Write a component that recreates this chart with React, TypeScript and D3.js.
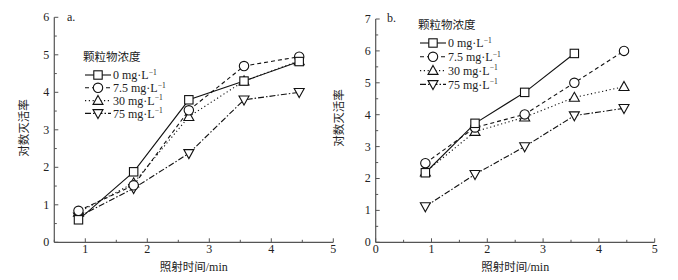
import React from "react";
import * as d3 from "d3";

const times = [0.89, 1.78, 2.67, 3.56, 4.45];
const seriesNames = ["0 mg·L", "7.5 mg·L", "30 mg·L", "75 mg·L"];
const legendTitle = "颗粒物浓度";
const yTitle = "对数灭活率";

// panel a
const a0 = [0.6, 1.88, 3.8, 4.3, 4.82];
const a75p = [0.84, 1.52, 3.52, 4.7, 4.95];
const a30 = [0.8, 1.58, 3.35, 4.3, 4.84];
const a75 = [0.68, 1.44, 2.37, 3.8, 4.0];

// panel b
const b0 = [2.18, 3.73, 4.7, 5.92];
const b75p = [2.48, 3.6, 4.01, 5.0, 6.0];
const b30 = [2.2, 3.47, 3.92, 4.54, 4.88];
const b75 = [1.12, 2.13, 3.0, 3.97, 4.2];

const aYTicks = [0, 1, 2, 3, 4, 5, 6];
const bYTicks = [0, 1, 2, 3, 4, 5, 6, 7];
const aXTicks = [1, 2, 3, 4, 5];
const bXTicks = [0, 1, 2, 3, 4, 5];

const dashes = [null, "4,3", "1.2,2.6", "6,2,1.5,2"];
const markers = ["square", "circle", "up", "down"];

const serif = "Liberation Serif, Times New Roman, serif";
const cjk = "Noto Sans CJK SC, Liberation Serif, serif";

function Marker({ type, x, y }: { type: string; x: number; y: number }) {
  const common = { fill: "white", stroke: "#111", strokeWidth: 1.1 };
  if (type === "square") return <rect x={x - 4.2} y={y - 4.2} width={8.4} height={8.4} {...common} />;
  if (type === "circle") return <circle cx={x} cy={y} r={4.7} {...common} />;
  if (type === "up")
    return <path d={`M${x},${y - 5.2}L${x + 5},${y + 3.8}L${x - 5},${y + 3.8}Z`} {...common} />;
  return <path d={`M${x},${y + 5.2}L${x + 5},${y - 3.8}L${x - 5},${y - 3.8}Z`} {...common} />;
}

function Panel(props: {
  series: number[][];
  xDomain: [number, number];
  yDomain: [number, number];
  xRange: [number, number];
  yRange: [number, number];
  xTicks: number[];
  yTicks: number[];
  label: string;
  labelPos: [number, number];
  legendPos: [number, number];
  legendGap: number;
  yTitlePos: [number, number];
  xTitleY: number;
}) {
  const x = d3.scaleLinear().domain(props.xDomain).range(props.xRange);
  const y = d3.scaleLinear().domain(props.yDomain).range(props.yRange);
  const line = d3
    .line<[number, number]>()
    .x((d) => x(d[0]))
    .y((d) => y(d[1]));
  const xMinor = d3.range(props.xDomain[0], props.xDomain[1] + 0.001, 0.5).filter((v) => !props.xTicks.includes(v));
  const yMinor = d3.range(props.yDomain[0], props.yDomain[1] + 0.001, 0.5).filter((v) => !props.yTicks.includes(v));
  const axisColor = "#555";
  const [lx, ly] = props.legendPos;
  return (
    <g>
      <line x1={props.xRange[0]} x2={props.xRange[0]} y1={props.yRange[0]} y2={props.yRange[1]} stroke={axisColor} strokeWidth={1.2} />
      <line x1={props.xRange[0]} x2={props.xRange[1]} y1={props.yRange[0]} y2={props.yRange[0]} stroke={axisColor} strokeWidth={1.2} />
      {props.yTicks.map((t) => (
        <g key={"yt" + t}>
          <line x1={props.xRange[0]} x2={props.xRange[0] + 4} y1={y(t)} y2={y(t)} stroke={axisColor} />
          <text x={props.xRange[0] - 5} y={y(t)} dy="0.33em" textAnchor="end" fontFamily={serif} fontSize={12} fill="#222">
            {t}
          </text>
        </g>
      ))}
      {yMinor.map((t) => (
        <line key={"ym" + t} x1={props.xRange[0]} x2={props.xRange[0] + 2.5} y1={y(t)} y2={y(t)} stroke={axisColor} />
      ))}
      {props.xTicks.map((t) => (
        <g key={"xt" + t}>
          <line x1={x(t)} x2={x(t)} y1={props.yRange[0]} y2={props.yRange[0] - 4} stroke={axisColor} />
          <text x={x(t)} y={props.yRange[0] + 11} textAnchor="middle" fontFamily={serif} fontSize={12} fill="#222">
            {t}
          </text>
        </g>
      ))}
      {xMinor.map((t) => (
        <line key={"xm" + t} x1={x(t)} x2={x(t)} y1={props.yRange[0]} y2={props.yRange[0] - 2.5} stroke={axisColor} />
      ))}
      {props.series.map((s, i) => {
        const pts = s.map((v, j) => [times[j], v] as [number, number]);
        return (
          <path
            key={"l" + i}
            d={line(pts) || ""}
            fill="none"
            stroke="#111"
            strokeWidth={1.1}
            strokeDasharray={dashes[i] || undefined}
          />
        );
      })}
      {props.series
        .map((s, i) => ({ s, i }))
        .reverse()
        .map(({ s, i }) =>
          s.map((v, j) => <Marker key={`m${i}-${j}`} type={markers[i]} x={x(times[j])} y={y(v)} />)
        )}
      <text x={props.labelPos[0]} y={props.labelPos[1]} fontFamily={serif} fontSize={12} fill="#222">
        {props.label}
      </text>
      <text
        transform={`translate(${props.yTitlePos[0]},${props.yTitlePos[1]}) rotate(-90)`}
        textAnchor="middle"
        fontFamily={cjk}
        fontSize={11.5}
        fill="#222"
      >
        {yTitle}
      </text>
      <text x={(props.xRange[0] + props.xRange[1]) / 2} y={props.xTitleY} textAnchor="middle" fontFamily={cjk} fontSize={11.5} fill="#222">
        <tspan>照射时间</tspan>
        <tspan fontFamily={serif} fontSize={12}>/min</tspan>
      </text>
      <text x={lx - 2} y={ly} fontFamily={cjk} fontSize={11.5} fill="#222">
        {legendTitle}
      </text>
      {seriesNames.map((n, i) => {
        const yy = ly + 14 + i * props.legendGap;
        return (
          <g key={"lg" + i}>
            <line x1={lx} x2={lx + 26} y1={yy} y2={yy} stroke="#111" strokeWidth={1.1} strokeDasharray={dashes[i] || undefined} />
            <Marker type={markers[i]} x={lx + 13} y={yy} />
            <text x={lx + 28} y={yy} dy="0.35em" fontFamily={serif} fontSize={12} fill="#222">
              {n}
              <tspan dy="-4.5" fontSize={7.5}>−1</tspan>
            </text>
          </g>
        );
      })}
    </g>
  );
}

export default function App() {
  return (
    <svg width={678} height={280} style={{ display: "block", margin: "-8px 0 0 -8px" }}>
      <rect width={678} height={280} fill="white" />
      <Panel
        series={[a0, a75p, a30, a75]}
        xDomain={[0.5, 5]}
        yDomain={[0, 6]}
        xRange={[54.3, 333.3]}
        yRange={[242.3, 17.3]}
        xTicks={aXTicks}
        yTicks={aYTicks}
        label="a."
        labelPos={[67, 21]}
        legendPos={[85, 61]}
        legendGap={12.8}
        yTitlePos={[28, 128]}
        xTitleY={271}
      />
      <Panel
        series={[b0, b75p, b30, b75]}
        xDomain={[0, 5]}
        yDomain={[0, 7]}
        xRange={[375.7, 654.7]}
        yRange={[242.3, 19]}
        xTicks={bXTicks}
        yTicks={bYTicks}
        label="b."
        labelPos={[387, 22]}
        legendPos={[420, 29]}
        legendGap={13.8}
        yTitlePos={[343, 118]}
        xTitleY={271}
      />
    </svg>
  );
}
